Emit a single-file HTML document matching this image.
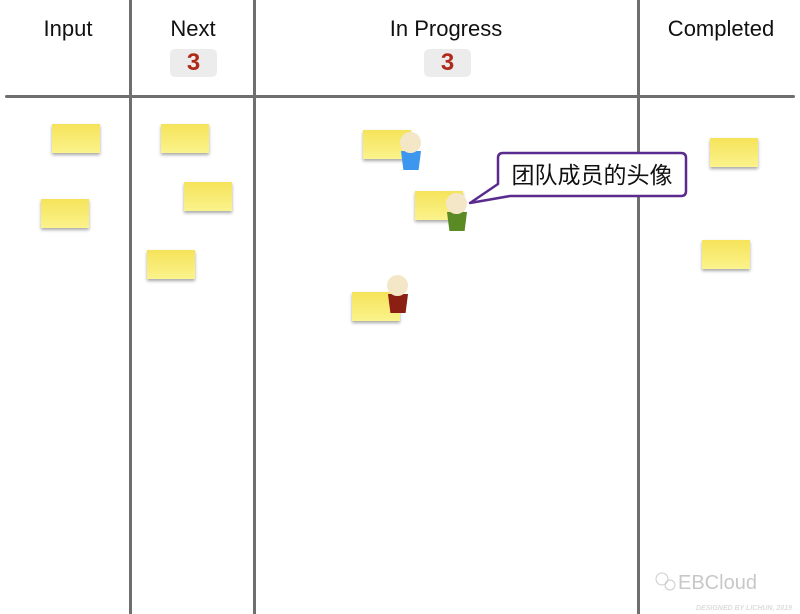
<!DOCTYPE html>
<html><head><meta charset="utf-8"><style>
body{margin:0;width:800px;height:614px;background:#fff;position:relative;overflow:hidden;font-family:"Liberation Sans","Noto Sans CJK SC",sans-serif}
.v{position:absolute;top:0;width:3px;height:614px;background:#6f6f6f}
.h{position:absolute;left:5px;top:95px;width:790px;height:3px;background:#6f6f6f;border-radius:2px}
.n{position:absolute;width:48px;height:29px;background:linear-gradient(#f5e35a,#fbf38c);box-shadow:0 2px 3px rgba(0,0,0,.35)}
.t{position:absolute;top:16px;font-size:22px;color:#111;font-family:"Liberation Sans Narrow","Liberation Sans",sans-serif;transform:translateX(-50%);white-space:nowrap}
.b{position:absolute;top:49px;width:47px;height:28px;background:#ececec;border-radius:5px;color:#b02a1a;font-size:24px;font-weight:bold;text-align:center;line-height:28px}
.hd{position:absolute;width:21px;height:21px;border-radius:50%;background:#f3e7c8}
.bd{position:absolute;width:20px;height:19px;clip-path:polygon(0 0,100% 0,88% 100%,12% 100%)}
</style></head><body>
<div class="v" style="left:129px"></div>
<div class="v" style="left:253px"></div>
<div class="v" style="left:637px"></div>
<div class="h"></div>
<div class="t" style="left:68px">Input</div>
<div class="t" style="left:193px">Next</div>
<div class="t" style="left:446px">In Progress</div>
<div class="t" style="left:721px">Completed</div>
<div class="b" style="left:170px">3</div>
<div class="b" style="left:424px">3</div>
<div class="n" style="left:52px;top:124px"></div>
<div class="n" style="left:41px;top:199px"></div>
<div class="n" style="left:161px;top:124px"></div>
<div class="n" style="left:184px;top:182px"></div>
<div class="n" style="left:147px;top:250px"></div>
<div class="n" style="left:363px;top:130px"></div>
<div class="n" style="left:415px;top:191px"></div>
<div class="n" style="left:352px;top:292px"></div>
<div class="n" style="left:710px;top:138px"></div>
<div class="n" style="left:702px;top:240px"></div>
<div class="bd" style="left:401px;top:151px;background:#3d97ee"></div>
<div class="hd" style="left:400px;top:132px"></div>
<div class="bd" style="left:447px;top:212px;background:#5a8a23"></div>
<div class="hd" style="left:446px;top:193px"></div>
<div class="bd" style="left:388px;top:294px;background:#8c1f14"></div>
<div class="hd" style="left:387px;top:275px"></div>
<svg style="position:absolute;left:0;top:0" width="800" height="614">
<path d="M503,153 L681,153 Q686,153 686,158 L686,191 Q686,196 681,196 L510,196 L470,203 L498,184 L498,158 Q498,153 503,153 Z" fill="#fff" stroke="#5b2a8f" stroke-width="2.5" stroke-linejoin="round"/>
<text x="592" y="183" text-anchor="middle" font-size="23" font-family="'Noto Sans CJK SC',sans-serif" fill="#111">团队成员的头像</text>
<text x="678" y="589" font-size="20" fill="#c8c8c8" font-family="Liberation Sans,sans-serif">EBCloud</text>
<text x="696" y="610" font-size="7" font-style="italic" font-weight="bold" fill="#ddd" font-family="Liberation Sans,sans-serif">DESIGNED BY LICHUN, 2019</text>
<circle cx="662" cy="579" r="6" fill="none" stroke="#ccc"/><circle cx="670" cy="585" r="5" fill="none" stroke="#ccc"/>
</svg>
</body></html>
